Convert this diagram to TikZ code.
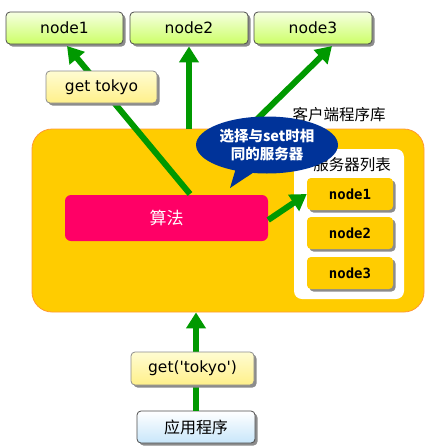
\documentclass[tikz,border=0pt]{standalone}
\usepackage{fontspec}
\setmainfont{DejaVu Sans}
\newfontfamily\cjk{Noto Sans CJK SC}
\newfontfamily\monob{DejaVu Sans Mono}
\usetikzlibrary{shapes.callouts,shadows,arrows.meta}
\definecolor{arrowgreen}{HTML}{009900}
\definecolor{boxorange}{HTML}{FFCC00}
\definecolor{boxedge}{HTML}{FF9933}
\definecolor{algopink}{HTML}{FF0066}
\definecolor{calloutblue}{HTML}{003399}
\definecolor{greentop}{HTML}{F6FFE2}
\definecolor{greenbot}{HTML}{CCFF66}
\definecolor{yeltop}{HTML}{FFFCD2}
\definecolor{yelbot}{HTML}{FFF08A}
\definecolor{bluebot}{HTML}{C8E6FA}
\begin{document}
\begin{tikzpicture}[x=1pt,y=-1pt,
  shadowed/.style={drop shadow={shadow xshift=2.5pt,shadow yshift=-2.5pt,fill=black!45,opacity=1}},
  topnode/.style={shadowed,draw=black!70,line width=0.8pt,rounded corners=4pt,top color=greentop,bottom color=greenbot,minimum width=117pt,minimum height=32pt,inner sep=0pt,font=\fontsize{15.5}{18}\selectfont},
  msgnode/.style={shadowed,draw=black!45,line width=0.8pt,rounded corners=4pt,top color=yeltop,bottom color=yelbot,minimum height=32pt,inner sep=0pt,font=\fontsize{15.5}{18}\selectfont},
  appnode/.style={shadowed,draw=black!70,line width=0.8pt,rounded corners=4pt,top color=white,bottom color=bluebot,minimum width=118pt,minimum height=32pt,inner sep=0pt,font=\cjk\fontsize{16}{18}\selectfont},
  srvnode/.style={shadowed,fill=boxorange,rounded corners=4pt,minimum width=86pt,minimum height=32pt,inner sep=0pt,font=\monob\bfseries\fontsize{14}{16}\selectfont},
  garrow/.style={draw=arrowgreen,line width=6pt,-{Triangle[width=19pt,length=16pt]}},
  cjklabel/.style={inner sep=0pt,font=\cjk\fontsize{15.5}{18}\selectfont}
]
\useasboundingbox (0,0) rectangle (432,448);
% client library box
\node[draw=boxedge,line width=0.8pt,fill=boxorange,rounded corners=20pt,minimum width=392pt,minimum height=183pt] (lib) at (228,220.5) {};
\node[fill=white,rounded corners=8pt,minimum width=110pt,minimum height=150pt] (list) at (349,224) {};
\node[srvnode] (s1) at (350,194) {node1};
\node[srvnode] (s2) at (350,233) {node2};
\node[srvnode] (s3) at (350,273) {node3};
\node[fill=algopink,rounded corners=6pt,minimum width=203pt,minimum height=46pt,text=white,font=\cjk\fontsize{17}{20}\selectfont] (algo) at (166.5,218) {算法};
% top server nodes
\node[topnode] (n1) at (64.5,28) {node1};
\node[topnode,minimum width=118pt] (n2) at (189,28) {node2};
\node[topnode,minimum width=118pt] (n3) at (313,28) {node3};
% arrows
\coordinate (a1s) at (190,194);
\coordinate (a1e) at (67,46);
\coordinate (a3s) at (247,129);
\coordinate (a3e) at (332,46);
\draw[garrow] (a1s) -- (a1e);
\draw[garrow,shorten >=2pt] (n2.south |- lib.north) -- (n2.south);
\draw[garrow] (a3s) -- (a3e);
\draw[garrow] (algo.east) ++(0,2) coordinate (a4s) (a4s) -- (s1.west);
% request label on node1 arrow
\node[msgnode,minimum width=111pt] (gt) at (101.5,87) {get tokyo};
% bottom: application and request
\node[appnode] (app) at (196,427) {应用程序};
\draw[garrow] (app.north) -- (app.north |- lib.south);
\node[msgnode,minimum width=123pt,minimum height=33pt] (gq) at (192.5,368.5) {get(\textquotesingle tokyo\textquotesingle)};
% labels
\node[cjklabel] (liblbl) at (339,115) {客户端程序库};
\node[cjklabel] (listlbl) at (352,165) {服务器列表};
% callout
\node[ellipse callout,fill=calloutblue,minimum width=142pt,minimum height=57pt,inner sep=0pt,
  callout absolute pointer={(230,188)},text=white,align=center,
  font=\cjk\bfseries\fontsize{14.5}{18}\selectfont] (call) at (267,145) {选择与set时相\\同的服务器};
\end{tikzpicture}
\end{document}
